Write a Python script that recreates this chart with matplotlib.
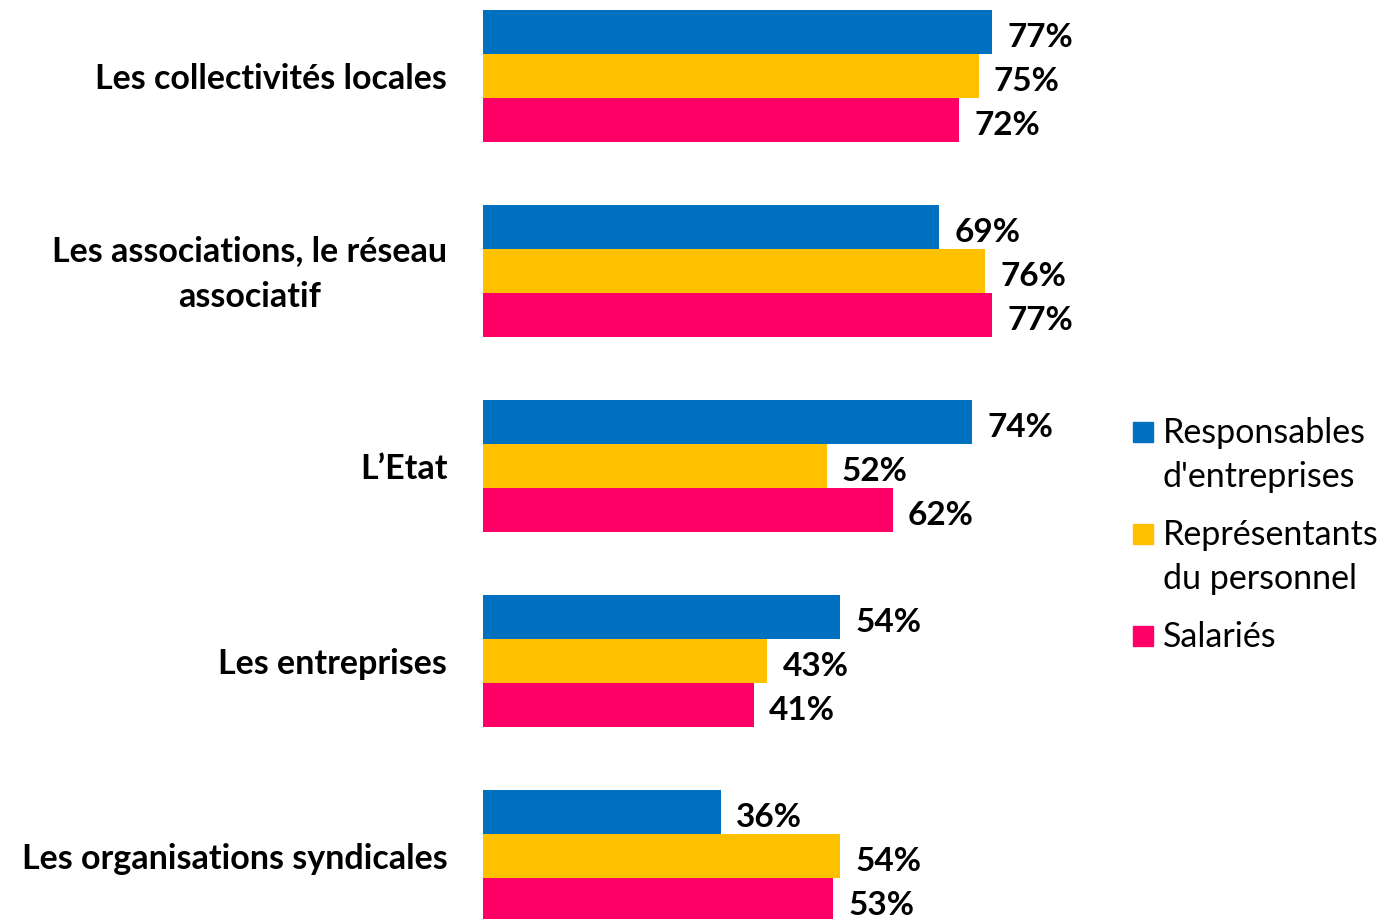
import matplotlib
matplotlib.use("Agg")
import matplotlib.pyplot as plt
from matplotlib.patches import Rectangle
import numpy as np

categories = ["Les collectivités locales", "Les associations, le réseau\nassociatif",
              "L’Etat", "Les entreprises", "Les organisations syndicales"]
series_names = ["Responsables\nd'entreprises", "Représentants\ndu personnel", "Salariés"]
responsables = [77, 69, 74, 54, 36]
representants = [75, 76, 52, 43, 54]
salaries = [72, 77, 62, 41, 53]
colors = ["#0070C0", "#FFC000", "#FF0066"]

plt.rcParams['font.family'] = ['Lato', 'DejaVu Sans']

W, H = 1382, 920
fig = plt.figure(figsize=(W/100, H/100), dpi=100)
ax = fig.add_axes([483/W, 0, (1144-483)/W, 1])

y = np.arange(len(categories))
bh = 44/195
series = [responsables, representants, salaries]
for j, (vals, col, name) in enumerate(zip(series, colors, series_names)):
    pos = y + (j - 1) * bh
    ax.barh(pos, vals, height=bh, color=col, label=name)
    for p, v in zip(pos, vals):
        ax.text(v + 2.3, p + 0.025, f"{v}%", va='center', ha='left', fontsize=24,
                fontweight='bold', color='black')

ax.set_xlim(0, 100)
ax.set_ylim((920-77)/195, -77/195)
ax.axis('off')

for yi, cat in zip(y, categories):
    ax.text(-5.4, yi + 0.012, cat, ha='right', va='center', multialignment='center',
            fontsize=24.5, fontweight='bold', linespacing=1.55)

# legend (manual, squares aligned with first line of each entry)
for k, (name, col) in enumerate(zip(series_names, colors)):
    y0 = 433 + 102 * k
    fig.patches.append(Rectangle((1133/W, 1 - (y0 + 10)/H), 20/W, 20/H,
                                 transform=fig.transFigure, color=col, figure=fig))
    for i, line in enumerate(name.split("\n")):
        fig.text(1163/W, 1 - (y0 + 44 * i)/H, line, ha='left', va='center',
                 fontsize=24.5, color='black')

fig.savefig("out.png", dpi=100)
